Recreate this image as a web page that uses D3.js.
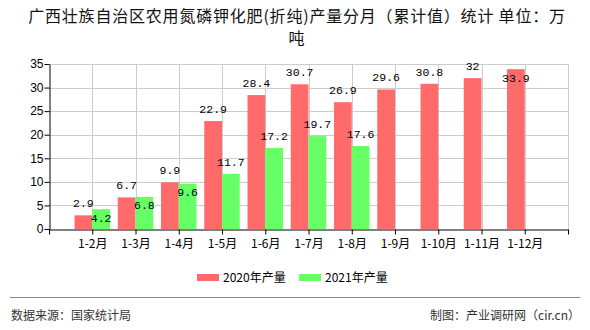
<!DOCTYPE html>
<html>
<head>
<meta charset="utf-8">
<script src="https://cdn.jsdelivr.net/npm/d3@7/dist/d3.min.js"></script>
<style>
  html, body { margin: 0; padding: 0; background: #fff; }
  svg { display: block; }
</style>
</head>
<body>
<svg id="chart" width="590" height="330"></svg>
<script>
// Monthly cumulative output (10k tonnes)
const categories = ["1-2月", "1-3月", "1-4月", "1-5月", "1-6月", "1-7月", "1-8月", "1-9月", "1-10月", "1-11月", "1-12月"];
const values2020 = [2.9, 6.7, 9.9, 22.9, 28.4, 30.7, 26.9, 29.6, 30.8, 32, 33.9];
const values2021 = [4.2, 6.8, 9.6, 11.7, 17.2, 19.7, 17.6, null, null, null, null];
const seriesNames = ["2020年产量", "2021年产量"];
const yTicks = [0, 5, 10, 15, 20, 25, 30, 35];

const colors = ["#ff6b6b", "#66ff66"];
const svg = d3.select("#chart");
const W = 590, H = 330;
const plot = { left: 49, right: 568, top: 64, bottom: 229 };

// Title
const title = svg.append("g").attr("font-family", "'Noto Sans CJK SC', sans-serif")
  .attr("font-size", 16).attr("letter-spacing", "0.8px").attr("fill", "#111").attr("text-anchor", "middle");
title.append("text").attr("x", W / 2 + 2).attr("y", 22).text("广西壮族自治区农用氮磷钾化肥(折纯)产量分月（累计值）统计 单位：万");
title.append("text").attr("x", W / 2 + 2).attr("y", 44).text("吨");

// X: one extra slot so the categories sit on the inner ticks
const xPos = d3.scalePoint().domain(["", ...categories, " "]).range([plot.left, plot.right]);
const step = xPos.step();
const barW = step * 0.41;
const y = d3.scaleLinear().domain([0, 35]).range([plot.bottom, plot.top]);

// Grid
const grid = svg.append("g").attr("stroke", "#cccccc").attr("stroke-width", 1);
yTicks.filter(t => t > 0).forEach(t => {
  grid.append("line").attr("x1", plot.left).attr("x2", plot.right)
    .attr("y1", Math.round(y(t)) + 0.5).attr("y2", Math.round(y(t)) + 0.5);
});
xPos.domain().slice(1).forEach(c => {
  const xx = Math.round(xPos(c)) + 0.5;
  grid.append("line").attr("x1", xx).attr("x2", xx).attr("y1", plot.top).attr("y2", plot.bottom);
});

// Bars
const barG = svg.append("g");
categories.forEach((c, i) => {
  const cx = xPos(c);
  [values2020[i], values2021[i]].forEach((v, s) => {
    if (v == null) return;
    barG.append("rect")
      .attr("x", s === 0 ? cx - barW : cx)
      .attr("y", y(v)).attr("width", barW).attr("height", y(0) - y(v))
      .attr("fill", colors[s]);
  });
});

// Axes
const yAxis = d3.axisLeft(y).tickValues(yTicks).tickSize(5).tickSizeOuter(0);
const yg = svg.append("g").attr("transform", `translate(${plot.left + 0.5},0)`).call(yAxis);
yg.select(".domain").attr("stroke", "#000");
yg.selectAll(".tick line").attr("stroke", "#000");
yg.selectAll(".tick text").attr("font-family", "'Liberation Sans', sans-serif")
  .attr("font-size", 12).attr("fill", "#000").attr("x", -6);

const xAxis = d3.axisBottom(xPos).tickSize(5).tickSizeOuter(0).tickFormat(d => d.trim());
const xg = svg.append("g").attr("transform", `translate(0,${plot.bottom + 0.5})`).call(xAxis);
xg.select(".domain").attr("stroke", "#000");
xg.selectAll(".tick line").attr("stroke", "#000");
xg.selectAll(".tick text").attr("font-family", "'Noto Sans CJK SC', sans-serif")
  .attr("font-size", 12).attr("fill", "#000").attr("y", 10);

// Value labels; the second series drops inside its bar when it would collide
const labG = svg.append("g").attr("font-family", "'Liberation Mono', monospace")
  .attr("font-size", 11.5).attr("fill", "#000").attr("text-anchor", "middle");
const charW = 6.6, lh = 12;
categories.forEach((c, i) => {
  const cx = xPos(c);
  const boxes = [];
  [values2020[i], values2021[i]].forEach((v, s) => {
    if (v == null) return;
    const lx = s === 0 ? cx - barW / 2 : cx + barW / 2;
    const txt = String(v);
    let ly = y(v) - 12;
    const w = txt.length * charW;
    const collide = boxes.some(b => Math.abs(b.x - lx) < (b.w + w) / 2 && Math.abs(b.y - ly) < lh);
    if (collide || ly < plot.top) ly = y(v) + 8.5;
    boxes.push({ x: lx, y: ly, w });
    labG.append("text").attr("x", lx).attr("y", ly).attr("dy", "0.35em").text(txt);
  });
});

// Legend
const leg = svg.append("g").attr("font-family", "'Noto Sans CJK SC', sans-serif").attr("font-size", 12).attr("fill", "#000");
const legX = [197, 299];
seriesNames.forEach((n, s) => {
  leg.append("rect").attr("x", legX[s]).attr("y", 274).attr("width", 22).attr("height", 7).attr("fill", colors[s]);
  leg.append("text").attr("x", legX[s] + 26).attr("y", 277.5).attr("dy", "0.35em").text(n);
});

// Footer
svg.append("line").attr("x1", 10).attr("x2", 580).attr("y1", 297.5).attr("y2", 297.5)
  .attr("stroke", "#888").attr("stroke-width", 1);
const foot = svg.append("g").attr("font-family", "'Noto Sans CJK SC', sans-serif").attr("font-size", 12).attr("fill", "#333");
foot.append("text").attr("x", 11).attr("y", 316).attr("dy", "0.35em").text("数据来源：国家统计局");
foot.append("text").attr("x", 580).attr("y", 316).attr("dy", "0.35em").attr("text-anchor", "end").text("制图：产业调研网（cir.cn）");
</script>
</body>
</html>
